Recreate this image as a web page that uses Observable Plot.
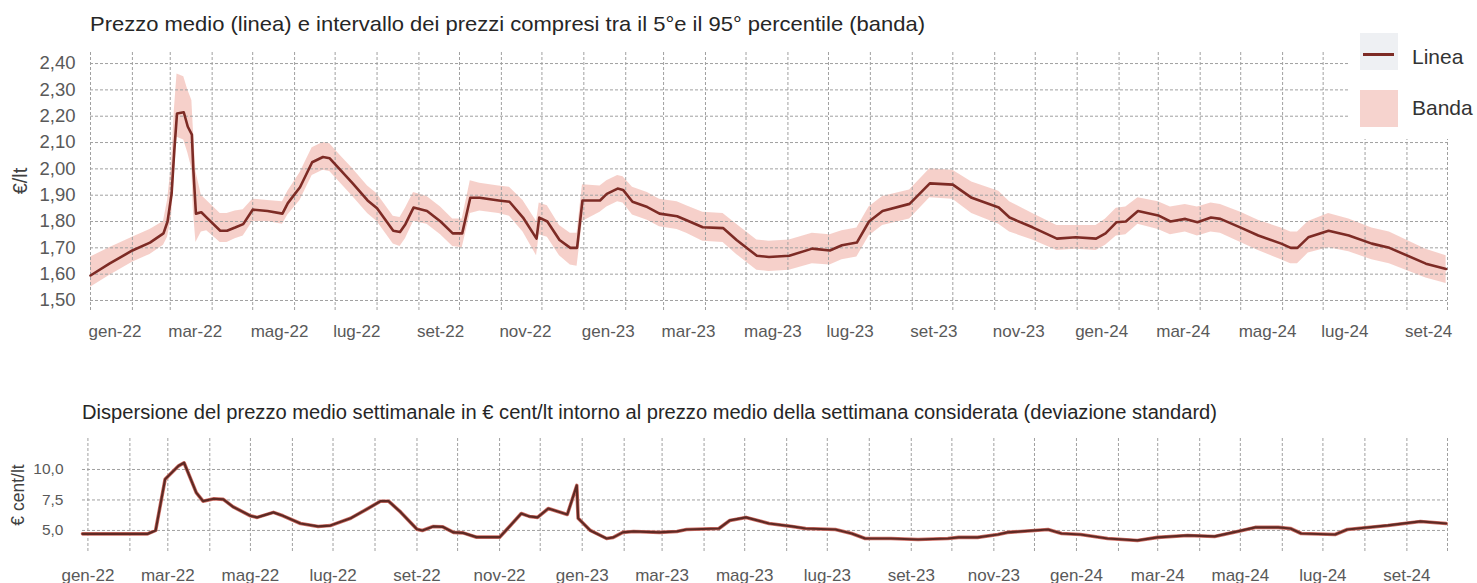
<!DOCTYPE html>
<html><head><meta charset="utf-8">
<script src="https://cdn.jsdelivr.net/npm/d3@7"></script>
<script src="https://cdn.jsdelivr.net/npm/@observablehq/plot@0.6"></script>
<style>
body{margin:0;background:#fff;width:1477px;height:583px;position:relative;overflow:hidden;font-family:"Liberation Sans",Arial,sans-serif;}
#top{position:absolute;left:0;top:0;}
#bottom{position:absolute;left:0;top:380px;}
#titles{position:absolute;left:0;top:0;pointer-events:none;font-family:"Liberation Sans",Arial,sans-serif;}
#legend{position:absolute;left:1348px;top:0;width:129px;height:139px;background:#fff;font-family:"Liberation Sans",Arial,sans-serif;color:#333;font-size:21px;}
#legend .sw{position:absolute;left:12px;width:38px;height:37px;}
#legend .lab{position:absolute;left:64px;line-height:24px;}
</style></head><body>
<div id="top"></div>
<div id="bottom"></div>
<svg id="titles" width="1477" height="583">
  <text x="90" y="31" font-size="21" fill="#262626" textLength="835" lengthAdjust="spacingAndGlyphs">Prezzo medio (linea) e intervallo dei prezzi compresi tra il 5°e il 95° percentile (banda)</text>
  <text x="82" y="419" font-size="19.5" fill="#262626" textLength="1135" lengthAdjust="spacingAndGlyphs">Dispersione del prezzo medio settimanale in € cent/lt intorno al prezzo medio della settimana considerata (deviazione standard)</text>
  <text transform="translate(20,181) rotate(-90)" text-anchor="middle" dy="0.35em" font-size="20" fill="#404040">€/lt</text>
  <text transform="translate(18,495) rotate(-90)" text-anchor="middle" dy="0.35em" font-size="17.5" fill="#404040">€ cent/lt</text>
</svg>
<div id="legend">
  <div class="sw" style="top:33px;background:#eef0f3;"><div style="position:absolute;left:3px;top:20px;width:31px;height:3px;background:#7d2b25;"></div></div>
  <div class="lab" style="top:45px;">Linea</div>
  <div class="sw" style="top:90px;background:#f6d3ce;"></div>
  <div class="lab" style="top:96px;">Banda</div>
</div>
<script>
// ---- Top chart: average price (line) and 5th-95th percentile band ----
const topDates = ["2022-01-01","2022-01-15","2022-02-01","2022-02-14","2022-02-24","2022-02-27","2022-03-02","2022-03-04","2022-03-06","2022-03-11","2022-03-14","2022-03-17","2022-03-18","2022-03-20","2022-03-24","2022-03-28","2022-04-07","2022-04-12","2022-04-18","2022-04-24","2022-05-01","2022-05-12","2022-05-23","2022-05-27","2022-06-05","2022-06-14","2022-06-22","2022-06-27","2022-07-05","2022-07-14","2022-07-25","2022-08-01","2022-08-13","2022-08-18","2022-08-22","2022-08-28","2022-09-07","2022-09-17","2022-09-26","2022-10-03","2022-10-09","2022-10-16","2022-10-30","2022-11-07","2022-11-17","2022-11-27","2022-11-29","2022-12-05","2022-12-14","2022-12-22","2022-12-27","2022-12-31","2023-01-13","2023-01-18","2023-01-26","2023-01-30","2023-02-06","2023-02-17","2023-02-26","2023-03-11","2023-03-18","2023-03-30","2023-04-14","2023-04-24","2023-05-09","2023-05-18","2023-06-02","2023-06-19","2023-07-02","2023-07-11","2023-07-22","2023-07-31","2023-08-10","2023-08-30","2023-09-14","2023-10-01","2023-10-15","2023-11-04","2023-11-12","2023-11-29","2023-12-17","2023-12-31","2024-01-15","2024-01-22","2024-01-30","2024-02-06","2024-02-15","2024-03-01","2024-03-10","2024-03-21","2024-03-30","2024-04-09","2024-04-16","2024-05-01","2024-05-14","2024-05-31","2024-06-07","2024-06-12","2024-06-20","2024-07-05","2024-07-20","2024-08-06","2024-08-19","2024-09-15","2024-09-30"];
const prezzoMedio = [1.595,1.64,1.69,1.72,1.755,1.80,1.905,2.07,2.21,2.215,2.16,2.13,2.005,1.83,1.835,1.815,1.765,1.765,1.777,1.79,1.845,1.84,1.83,1.87,1.93,2.025,2.045,2.04,1.995,1.945,1.88,1.85,1.765,1.76,1.79,1.853,1.84,1.80,1.755,1.755,1.89,1.89,1.88,1.875,1.815,1.735,1.815,1.80,1.73,1.70,1.70,1.88,1.88,1.905,1.925,1.92,1.875,1.855,1.83,1.82,1.805,1.778,1.775,1.73,1.67,1.665,1.67,1.697,1.69,1.71,1.72,1.80,1.84,1.867,1.945,1.94,1.89,1.853,1.815,1.778,1.735,1.74,1.735,1.755,1.797,1.80,1.84,1.823,1.80,1.81,1.797,1.815,1.81,1.777,1.747,1.716,1.70,1.70,1.74,1.765,1.747,1.716,1.70,1.64,1.62];
const bandaBassa = [1.55,1.595,1.645,1.675,1.71,1.74,1.82,1.97,2.12,2.11,2.06,2.00,1.85,1.72,1.76,1.765,1.72,1.72,1.735,1.745,1.80,1.80,1.79,1.825,1.88,1.975,1.995,1.99,1.945,1.895,1.83,1.80,1.715,1.705,1.735,1.80,1.79,1.75,1.705,1.70,1.83,1.84,1.83,1.82,1.76,1.67,1.75,1.74,1.67,1.635,1.63,1.80,1.835,1.855,1.875,1.87,1.825,1.805,1.78,1.77,1.755,1.725,1.72,1.675,1.615,1.61,1.615,1.64,1.635,1.655,1.665,1.745,1.785,1.81,1.89,1.885,1.83,1.79,1.76,1.73,1.69,1.695,1.69,1.71,1.745,1.75,1.79,1.77,1.75,1.76,1.745,1.76,1.755,1.72,1.69,1.655,1.64,1.64,1.68,1.70,1.685,1.655,1.64,1.585,1.565];
const bandaAlta = [1.665,1.70,1.74,1.77,1.80,1.88,2.02,2.22,2.36,2.35,2.30,2.26,2.16,1.99,1.90,1.88,1.83,1.83,1.84,1.845,1.885,1.88,1.875,1.915,1.985,2.08,2.10,2.095,2.05,2.00,1.935,1.905,1.82,1.815,1.85,1.91,1.895,1.855,1.81,1.81,1.955,1.945,1.935,1.93,1.88,1.80,1.87,1.86,1.785,1.755,1.755,1.94,1.935,1.955,1.975,1.97,1.93,1.91,1.885,1.875,1.86,1.835,1.83,1.79,1.73,1.725,1.73,1.755,1.75,1.765,1.775,1.855,1.895,1.92,2.00,1.995,1.95,1.915,1.875,1.83,1.785,1.785,1.785,1.81,1.85,1.855,1.89,1.875,1.855,1.865,1.855,1.87,1.865,1.835,1.805,1.775,1.76,1.76,1.80,1.83,1.81,1.775,1.76,1.695,1.67];
const yTicksTop = [1.5,1.6,1.7,1.8,1.9,2.0,2.1,2.2,2.3,2.4];

// ---- Bottom chart: weekly standard deviation (euro cent/lt) ----
const dispDates = ["2021-12-28","2022-02-14","2022-02-20","2022-02-27","2022-03-04","2022-03-09","2022-03-13","2022-03-22","2022-03-27","2022-04-04","2022-04-11","2022-04-18","2022-05-01","2022-05-06","2022-05-18","2022-05-25","2022-06-07","2022-06-20","2022-06-29","2022-07-14","2022-07-26","2022-08-05","2022-08-11","2022-08-20","2022-09-01","2022-09-05","2022-09-13","2022-09-20","2022-09-28","2022-10-05","2022-10-15","2022-11-01","2022-11-09","2022-11-17","2022-11-23","2022-11-29","2022-12-07","2022-12-21","2022-12-28","2022-12-29","2023-01-07","2023-01-19","2023-01-24","2023-01-31","2023-02-08","2023-02-27","2023-03-12","2023-03-19","2023-04-12","2023-04-20","2023-05-02","2023-05-19","2023-06-05","2023-06-15","2023-07-07","2023-07-19","2023-07-29","2023-08-17","2023-09-06","2023-09-28","2023-10-06","2023-10-20","2023-11-04","2023-11-11","2023-11-21","2023-12-11","2023-12-21","2024-01-04","2024-01-24","2024-02-15","2024-03-01","2024-03-23","2024-04-12","2024-04-29","2024-05-12","2024-05-29","2024-06-07","2024-06-15","2024-07-10","2024-07-19","2024-08-18","2024-09-11","2024-09-30"];
const deviazione = [4.72,4.72,5.0,9.2,9.75,10.3,10.55,8.1,7.4,7.6,7.55,6.95,6.2,6.07,6.48,6.2,5.57,5.33,5.4,6.0,6.75,7.4,7.4,6.5,5.1,5.0,5.33,5.3,4.84,4.8,4.45,4.45,5.4,6.39,6.15,6.07,6.8,6.31,8.69,6.0,5.0,4.34,4.43,4.84,4.92,4.84,4.92,5.08,5.16,5.82,6.07,5.57,5.33,5.16,5.08,4.75,4.34,4.34,4.26,4.34,4.43,4.43,4.67,4.84,4.92,5.08,4.75,4.67,4.34,4.18,4.43,4.59,4.51,4.92,5.25,5.25,5.16,4.75,4.67,5.08,5.41,5.74,5.57];
const yTicksBottom = [5, 7.5, 10];

// ---- Axis labels ----
const xTickDates = ["2022-01-01","2022-03-01","2022-05-01","2022-07-01","2022-09-01","2022-11-01","2023-01-01","2023-03-01","2023-05-01","2023-07-01","2023-09-01","2023-11-01","2024-01-01","2024-03-01","2024-05-01","2024-07-01","2024-09-01"];
const xTickLabels = ["gen-22","mar-22","mag-22","lug-22","set-22","nov-22","gen-23","mar-23","mag-23","lug-23","set-23","nov-23","gen-24","mar-24","mag-24","lug-24","set-24"];

const parse = s => new Date(s + "T00:00:00Z");
const topData = topDates.map((d, i) => ({date: parse(d), prezzo: prezzoMedio[i], low: bandaBassa[i], high: bandaAlta[i]}));
const dispData = dispDates.map((d, i) => ({date: parse(d), sd: deviazione[i]}));
const tickDates = xTickDates.map(parse);
const labelOf = new Map(tickDates.map((d, i) => [+d, xTickLabels[i]]));
const monthStarts = d3.utcMonth.range(parse("2022-01-01"), parse("2024-10-02"));
const comma = f => d => d3.format(f)(d).replace(".", ",");
const gridStyle = {stroke: "#a0a0a0", strokeOpacity: 1, strokeWidth: 1, strokeDasharray: "3,2"};

const topPlot = Plot.plot({
  width: 1477, height: 350,
  marginTop: 52, marginBottom: 40, marginLeft: 90, marginRight: 30,
  style: {fontFamily: "Liberation Sans, Arial, sans-serif", background: "transparent", overflow: "visible"},
  x: {type: "utc", domain: [parse("2022-01-01"), parse("2024-10-01")]},
  y: {domain: [1.462, 2.442]},
  marks: [
    Plot.areaY(topData, {x: "date", y1: "low", y2: "high", fill: "#f6cdc7", fillOpacity: 0.95, curve: "linear"}),
    Plot.gridY(yTicksTop, gridStyle),
    Plot.gridX(monthStarts, gridStyle),
    Plot.line(topData, {x: "date", y: "prezzo", stroke: "#7d2b25", strokeWidth: 2.6, curve: "linear"}),
    Plot.axisY(yTicksTop, {tickSize: 0, tickPadding: 15, tickFormat: comma(".2f"), fontSize: 18.5, color: "#595959", label: null}),
    Plot.axisX(tickDates, {tickSize: 0, tickPadding: 14, tickFormat: d => labelOf.get(+d), fontSize: 17, color: "#595959",
      textAnchor: "start", dx: -2, label: null})
  ]
});
document.getElementById("top").append(topPlot);

const bottomPlot = Plot.plot({
  width: 1477, height: 203,
  marginTop: 58, marginBottom: 30, marginLeft: 82, marginRight: 30,
  style: {fontFamily: "Liberation Sans, Arial, sans-serif", background: "transparent", overflow: "visible"},
  x: {type: "utc", domain: [parse("2021-12-28"), parse("2024-10-01")]},
  y: {domain: [3.11, 12.54]},
  marks: [
    Plot.gridY(yTicksBottom, gridStyle),
    Plot.gridX(monthStarts, gridStyle),
    Plot.line(dispData, {x: "date", y: "sd", stroke: "#cf6f66", strokeWidth: 3.6, curve: "linear"}),
    Plot.line(dispData, {x: "date", y: "sd", stroke: "#5e2a24", strokeWidth: 2.2, curve: "linear"}),
    Plot.axisY(yTicksBottom, {tickSize: 0, tickPadding: 19, tickFormat: comma(".1f"), fontSize: 15.5, color: "#595959", label: null}),
    Plot.axisX(tickDates, {tickSize: 0, tickPadding: 15, tickFormat: d => labelOf.get(+d), fontSize: 17, color: "#595959", label: null})
  ]
});
document.getElementById("bottom").append(bottomPlot);
</script>
</body></html>
